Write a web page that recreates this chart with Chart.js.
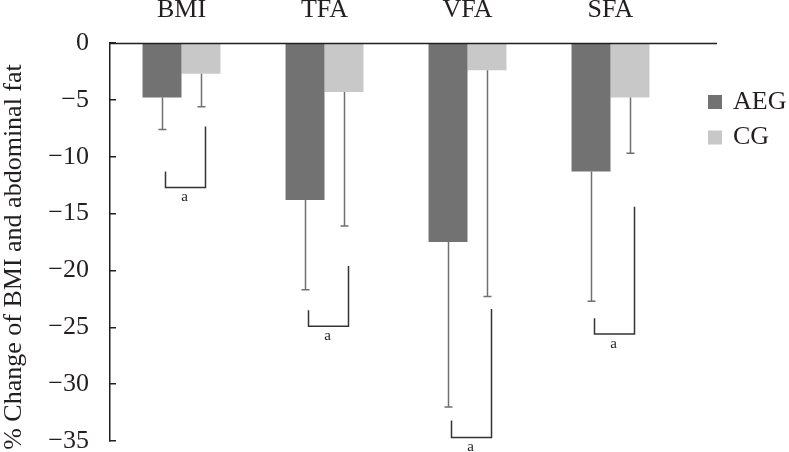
<!DOCTYPE html>
<html>
<head>
<meta charset="utf-8">
<script src="https://cdn.jsdelivr.net/npm/chart.js@4"></script>
<style>
html,body{margin:0;padding:0;background:#fff;}
canvas{display:block;}
</style>
</head>
<body>
<canvas id="c" width="789" height="452"></canvas>
<script>
// ---- data ----
const categories = ['BMI', 'TFA', 'VFA', 'SFA'];
const seriesNames = ['AEG', 'CG'];
const aegValues = [-4.8, -13.8, -17.5, -11.3];
const cgValues = [-2.7, -4.3, -2.4, -4.8];
const aegSD = [2.8, 7.9, 14.5, 11.4];
const cgSD = [2.9, 11.8, 19.9, 4.9];
// significance brackets ("a"): level of left arm top, right arm top, and bottom line
const bracketLeftTop = [-11.3, -23.5, -33.2, -24.2];
const bracketRightTop = [-7.35, -19.6, -23.4, -14.4];
const bracketBottom = [-12.7, -24.9, -34.7, -25.6];
const bracketLabels = ['a', 'a', 'a', 'a'];
const yMin = -35, yMax = 0, yStep = 5;
const yTitle = '% Change of BMI and abdominal fat';

const FONT = "'Liberation Serif', 'Times New Roman', serif";
const AXIS = '#231f20';
const sdList = [aegSD, cgSD];

const errorBars = {
  id: 'errorBars',
  afterDatasetsDraw(chart) {
    const ctx = chart.ctx, ys = chart.scales.y;
    ctx.save();
    ctx.strokeStyle = '#707070';
    ctx.lineWidth = 1.5;
    chart.data.datasets.forEach((ds, i) => {
      const meta = chart.getDatasetMeta(i);
      meta.data.forEach((bar, j) => {
        const v = ds.data[j];
        const y0 = ys.getPixelForValue(v);
        const y1 = ys.getPixelForValue(v - sdList[i][j]);
        const x = Math.round(bar.x) + 0.5;
        ctx.beginPath();
        ctx.moveTo(x, y0);
        ctx.lineTo(x, y1);
        ctx.moveTo(x - 4, y1);
        ctx.lineTo(x + 4, y1);
        ctx.stroke();
      });
    });
    // brackets
    const m0 = chart.getDatasetMeta(0), m1 = chart.getDatasetMeta(1);
    ctx.strokeStyle = '#333333';
    ctx.lineWidth = 1.5;
    ctx.fillStyle = '#231f20';
    ctx.font = '15px ' + FONT;
    ctx.textAlign = 'center';
    ctx.textBaseline = 'top';
    categories.forEach((c, j) => {
      const xl = Math.round(m0.data[j].x) + 3.5;
      const xr = Math.round(m1.data[j].x) + 4.5;
      const yl = ys.getPixelForValue(bracketLeftTop[j]);
      const yr = ys.getPixelForValue(bracketRightTop[j]);
      const yb = ys.getPixelForValue(bracketBottom[j]);
      ctx.beginPath();
      ctx.moveTo(xl, yl);
      ctx.lineTo(xl, yb);
      ctx.lineTo(xr, yb);
      ctx.lineTo(xr, yr);
      ctx.stroke();
      ctx.fillText(bracketLabels[j], (xl + xr) / 2 - 1, yb + 2);
    });
    // zero line across the top, extended past the plot
    const yz = Math.round(ys.getPixelForValue(0)) + 0.5;
    ctx.strokeStyle = AXIS;
    ctx.lineWidth = 1.5;
    ctx.beginPath();
    ctx.moveTo(chart.chartArea.left, yz);
    ctx.lineTo(717, yz);
    ctx.stroke();
    // y-axis title
    ctx.save();
    ctx.translate(14, 257);
    ctx.rotate(-Math.PI / 2);
    ctx.font = '26px ' + FONT;
    ctx.textAlign = 'center';
    ctx.textBaseline = 'middle';
    ctx.fillStyle = '#231f20';
    ctx.fillText(yTitle, 0, 0);
    ctx.restore();
    // legend
    ctx.font = '26px ' + FONT;
    ctx.textAlign = 'left';
    ctx.textBaseline = 'middle';
    chart.data.datasets.forEach((ds, i) => {
      const top = 95 + i * 35.5;
      ctx.fillStyle = ds.backgroundColor;
      ctx.fillRect(708, top, 14, 14);
      ctx.fillStyle = '#231f20';
      ctx.fillText(ds.label, 733, top + 7);
    });
    ctx.restore();
  }
};

new Chart(document.getElementById('c'), {
  type: 'bar',
  data: {
    labels: categories,
    datasets: [
      { label: seriesNames[0], data: aegValues, backgroundColor: '#727272' },
      { label: seriesNames[1], data: cgValues, backgroundColor: '#c8c8c8' }
    ]
  },
  options: {
    responsive: false,
    animation: false,
    devicePixelRatio: 1,
    layout: { padding: { left: 0, right: 107, top: 0, bottom: 11 } },
    datasets: { bar: { categoryPercentage: 0.545, barPercentage: 1.0 } },
    plugins: { legend: { display: false }, tooltip: { enabled: false } },
    scales: {
      x: {
        position: 'top',
        grid: { display: false, drawTicks: false },
        border: { display: false },
        ticks: { color: '#231f20', font: { family: FONT, size: 26 }, padding: 17, maxRotation: 0 },
        afterFit(s) { s.height = 43; s.paddingLeft = 0; s.paddingRight = 0; }
      },
      y: {
        min: yMin, max: yMax,
        grid: { display: true, drawOnChartArea: false, drawTicks: true, tickLength: -6, color: AXIS, lineWidth: 1.5 },
        border: { display: true, color: AXIS, width: 1.5 },
        ticks: {
          stepSize: yStep,
          color: '#231f20',
          font: { family: FONT, size: 26 },
          padding: 27,
          callback: v => (v < 0 ? '\u2212' + Math.abs(v) : String(v))
        },
        afterFit(s) { s.width = 110; s.paddingTop = 0; s.paddingBottom = 0; }
      }
    }
  },
  plugins: [errorBars]
});
</script>
</body>
</html>
